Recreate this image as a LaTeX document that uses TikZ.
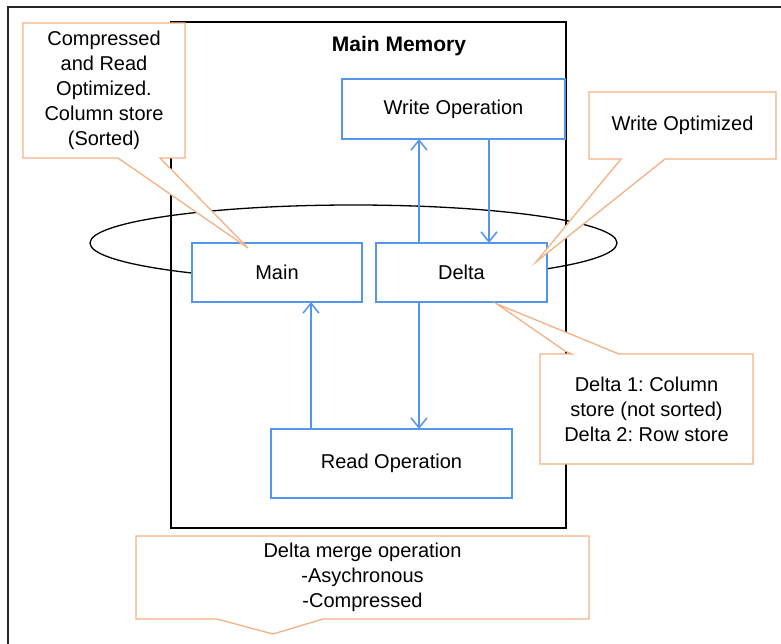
\documentclass[tikz,border=0pt]{standalone}
\usepackage{fontspec}
\setmainfont{Liberation Sans}
\usetikzlibrary{arrows.meta}
\frenchspacing
\definecolor{opblue}{RGB}{84,150,236}
\definecolor{noteorange}{RGB}{244,178,132}
\tikzset{
  opbox/.style={draw=opblue, line width=1.4pt, fill=white, outer sep=0pt,
    inner sep=0pt, font=\fontsize{20}{25}\selectfont},
  flow/.style={draw=opblue, line width=1.5pt, -{Straight Barb[length=10pt,width=16pt]}},
  note/.style={draw=noteorange, line width=1.3pt, fill=white, line join=miter},
  notetext/.style={align=center, inner sep=0pt, font=\fontsize{20}{25}\selectfont}
}
\begin{document}
\begin{tikzpicture}[x=1pt, y=-1pt]
\useasboundingbox (0,0) rectangle (781,644);
\draw[line width=2pt, black!85] (8,644)--(8,7)--(781,7);

\draw[line width=1.3pt] (353.5,243) ellipse [x radius=263.5, y radius=38];
\fill[white] (192,243) rectangle (547,302);
\draw[line width=1.5pt] (171,22) rectangle (566,528);
\node[font=\fontsize{21}{25}\selectfont\bfseries] (mem) at (399,46) {Main Memory};

\node[opbox, minimum width=223pt, minimum height=60pt] (write) at (453.5,109) {Write Operation};
\node[opbox, minimum width=170pt, minimum height=59pt] (main) at (277,272.5) {Main};
\node[opbox, minimum width=171pt, minimum height=59pt] (delta) at (461.5,272.5) {Delta};
\node[opbox, minimum width=241pt, minimum height=69pt] (read) at (391.5,463.5) {Read Operation};

\coordinate (xa) at (419,0);
\coordinate (xb) at (489,0);
\coordinate (xc) at (311,0);
\draw[flow] (delta.north -| xa)--(write.south -| xa);
\draw[flow] (write.south -| xb)--(delta.north -| xb);
\draw[flow] (delta.south -| xa)--(read.north -| xa);
\draw[flow] (read.north -| xc)--(main.south -| xc);

\draw[note] (23,23)--(185,23)--(185,158)--(160,158)--(248,248)--(118,158)--(23,158)--cycle;
\node[notetext] (sorted) at (104,90.5) {Compressed\\and Read\\Optimized.\\Column store\\(Sorted)};

\draw[note] (589,92)--(776,92)--(776,159)--(665,159)--(536,262)--(621,159)--(589,159)--cycle;
\node[notetext] (wopt) at (682.5,125) {Write Optimized};

\draw[note] (540,354)--(572,354)--(565,351)--(497,304)--(619,354)--(753,354)--(753,464)--(540,464)--cycle;
\node[notetext] (deltas) at (646.5,409) {Delta 1: Column\\store (not sorted)\\Delta 2: Row store};

\draw[note] (136,536)--(589,536)--(589,619)--(323,619)--(273,634)--(217,619)--(136,619)--cycle;
\node[notetext] (merge) at (362.5,577.5) {Delta merge operation\\-Asychronous\\-Compressed};
\end{tikzpicture}
\end{document}
